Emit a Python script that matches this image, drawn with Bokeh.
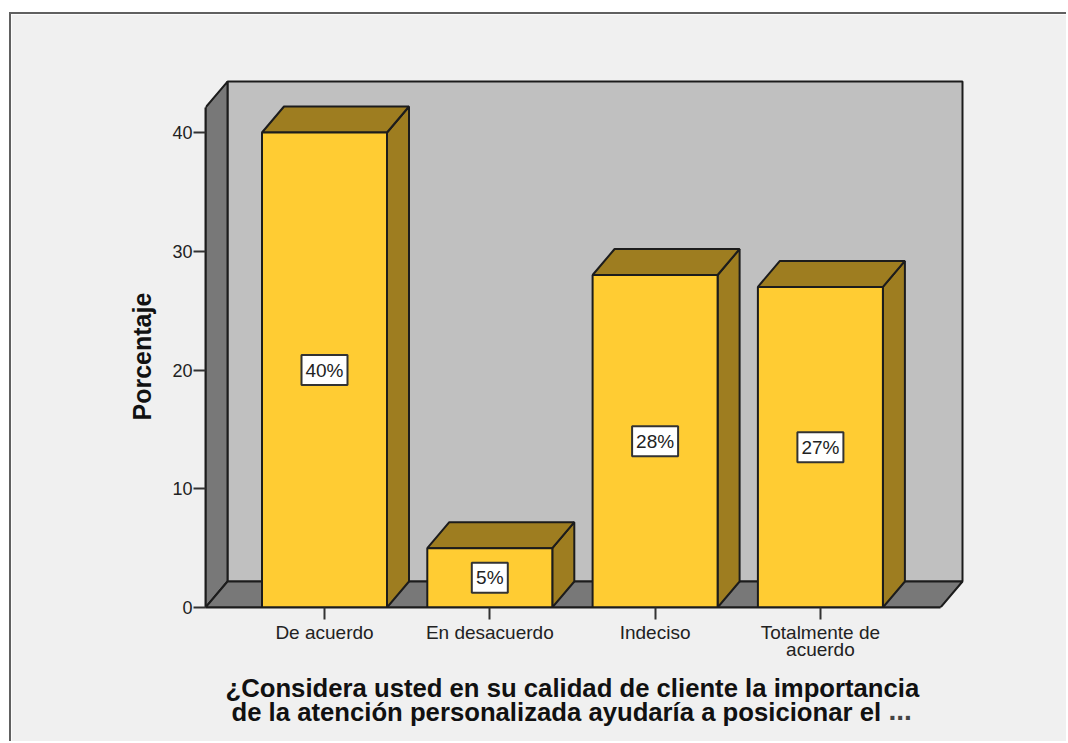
from bokeh.core.properties import value
from bokeh.embed import file_html
from bokeh.models import ColumnDataSource, FixedTicker, Range1d, Title
from bokeh.plotting import figure
from bokeh.resources import INLINE

# Survey responses, in percent
categories = ["De acuerdo", "En desacuerdo", "Indeciso", "Totalmente de\nacuerdo"]
percentages = [40, 5, 28, 27]
y_ticks = [0, 10, 20, 30, 40]
y_label = "Porcentaje"
x_title_lines = [
    "¿Considera usted en su calidad de cliente la importancia",
    "de la atención personalizada ayudaría a posicionar el",
]
x_title_ellipsis = "..."

# Pixel geometry of the panel
FIG_LEFT, FIG_TOP = 11, 14
FIG_W, FIG_H = 1068 - FIG_LEFT, 743 - FIG_TOP
AXIS_X, AXIS_Y = 205, 607
FRAME_RIGHT, FRAME_TOP = 975, 70
PX_PER_UNIT_Y = 11.875
PX_PER_CAT = 165.3
FIRST_CAT_X = 324


def col_x(px):
    return (px - FIRST_CAT_X) / PX_PER_CAT


def row_y(px):
    return (AXIS_Y - px) / PX_PER_UNIT_Y


# Oblique depth of the 3-D box, in data units
DEPTH_X = 22 / PX_PER_CAT
DEPTH_Y = 26 / PX_PER_UNIT_Y
BAR_HALF = 62.5 / PX_PER_CAT

x_start = col_x(AXIS_X)
x_end = col_x(FRAME_RIGHT)
y_end = row_y(FRAME_TOP)
floor_right = col_x(940)
wall_top = 42.1

PANEL = "#f0f0f0"
WALL = "#c0c0c0"
SHADE = "#787878"
BAR = "#ffcc33"
BAR_DARK = "#9e7d20"
INK = "#1c1c1c"

p = figure(
    width=FIG_W,
    height=FIG_H,
    output_backend="svg",
    toolbar_location=None,
    x_range=Range1d(x_start, x_end),
    y_range=Range1d(0, y_end),
    min_border_left=AXIS_X - FIG_LEFT,
    min_border_right=FIG_LEFT + FIG_W - FRAME_RIGHT,
    min_border_top=FRAME_TOP - FIG_TOP,
    min_border_bottom=FIG_TOP + FIG_H - AXIS_Y,
    background_fill_color=PANEL,
    border_fill_color=PANEL,
    outline_line_color=PANEL,
    outline_line_width=2,
    margin=(FIG_TOP, 0, 0, FIG_LEFT),
    styles={"border-left": "2px solid #606060", "border-top": "2px solid #606060",
            "margin-left": f"{FIG_LEFT - 2}px", "margin-top": f"{FIG_TOP - 2}px"},
)
p.grid.visible = False

# Box walls
back_x = x_start + DEPTH_X
p.patch([back_x, floor_right + DEPTH_X, floor_right + DEPTH_X, back_x],
        [DEPTH_Y, DEPTH_Y, wall_top + DEPTH_Y, wall_top + DEPTH_Y],
        fill_color=WALL, line_color=INK, line_width=2)
p.patch([x_start, back_x, back_x, x_start],
        [0, DEPTH_Y, wall_top + DEPTH_Y, wall_top],
        fill_color=SHADE, line_color=INK, line_width=2)
p.patch([x_start, floor_right, floor_right + DEPTH_X, back_x],
        [0, 0, DEPTH_Y, DEPTH_Y],
        fill_color=SHADE, line_color=INK, line_width=2)

# Bars: side and top faces first, the front face over them
for i, v in enumerate(percentages):
    left, right = i - BAR_HALF, i + BAR_HALF
    p.patch([right, right + DEPTH_X, right + DEPTH_X, right],
            [0, DEPTH_Y, v + DEPTH_Y, v],
            fill_color=BAR_DARK, line_color=INK, line_width=2)
    p.patch([left, right, right + DEPTH_X, left + DEPTH_X],
            [v, v, v + DEPTH_Y, v + DEPTH_Y],
            fill_color=BAR_DARK, line_color=INK, line_width=2)
    p.quad(left=left, right=right, bottom=0, top=v,
           fill_color=BAR, line_color=INK, line_width=2)

# Value boxes centred halfway up each bar
labels = ColumnDataSource(dict(
    x=list(range(len(percentages))),
    y=[v / 2 for v in percentages],
    text=[f"{v}%" for v in percentages],
    w=[46 if v >= 10 else 36 for v in percentages],
))
p.rect("x", "y", width="w", height=30, width_units="screen", height_units="screen",
       source=labels, fill_color="white", line_color="#333333", line_width=2)
p.text("x", "y", text="text", source=labels, text_align="center", text_baseline="middle",
       text_font=value("Liberation Sans"), text_font_size="19px", text_color="#222222")

# Axes
p.yaxis.ticker = FixedTicker(ticks=y_ticks)
p.yaxis.bounds = (0, wall_top)
p.yaxis.axis_line_color = INK
p.yaxis.axis_line_width = 2
p.yaxis.major_tick_line_color = "#333333"
p.yaxis.major_tick_line_width = 2
p.yaxis.major_tick_out = 12
p.yaxis.major_tick_in = 0
p.yaxis.minor_tick_line_color = None
p.yaxis.major_label_standoff = 1
p.yaxis.major_label_text_font = "Liberation Sans"
p.yaxis.major_label_text_font_size = "18px"
p.yaxis.major_label_text_color = "#222222"

p.xaxis.ticker = FixedTicker(ticks=list(range(len(categories))))
p.xaxis.major_label_overrides = {i: c for i, c in enumerate(categories)}
p.xaxis.bounds = (x_start, floor_right)
p.xaxis.axis_line_color = INK
p.xaxis.axis_line_width = 2
p.xaxis.major_tick_line_color = "#333333"
p.xaxis.major_tick_line_width = 2
p.xaxis.major_tick_out = 12
p.xaxis.major_tick_in = 0
p.xaxis.minor_tick_line_color = None
p.xaxis.major_label_standoff = 2
p.xaxis.major_label_text_font = "Liberation Sans"
p.xaxis.major_label_text_font_size = "19px"
p.xaxis.major_label_text_color = "#222222"
p.xaxis.major_label_text_line_height = 0.85

# Value-axis title, shifted along the axis to sit at the middle of the wall
p.add_layout(Title(
    text=y_label, align="left", offset=AXIS_Y - 420, standoff=28,
    text_font="Liberation Sans", text_font_style="bold", text_font_size="25px",
    text_color="#111111",
), "left")

# Two-line category-axis title; the ellipsis shares the second row
for text, left_px, standoff in zip(x_title_lines, (225, 231), (16, -28)):
    p.add_layout(Title(
        text=text, align="left", offset=left_px - AXIS_X, standoff=standoff,
        text_font="Liberation Sans", text_font_style="bold", text_font_size="25.7px",
        text_color="#111111", text_line_height=0.9,
    ), "below")
p.add_layout(Title(
    text=x_title_ellipsis, align="left", offset=888 - AXIS_X, standoff=-22,
    vertical_align="top",
    text_font="Liberation Sans", text_font_size="28px", text_color="#444444",
), "below")

open("out.html", "w").write(file_html(p, INLINE))
